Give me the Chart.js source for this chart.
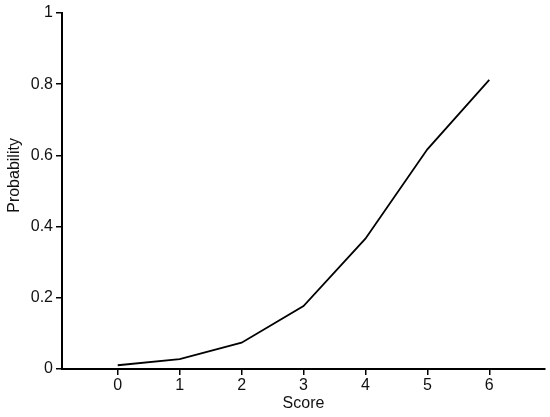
<!DOCTYPE html>
<html>
<head>
<meta charset="utf-8">
<script src="https://cdn.jsdelivr.net/npm/chart.js@4/dist/chart.umd.min.js"></script>
<style>
  html, body { margin: 0; padding: 0; background: #fff; }
  #wrap { width: 550px; height: 417px; }
</style>
</head>
<body>
<div id="wrap"><canvas id="chart"></canvas></div>
<script>
// score categories and the probability
const scores = [0, 1, 2, 3, 4, 5, 6];
const probability = [0.0105, 0.028, 0.074, 0.177, 0.366, 0.617, 0.812];
const yTicks = [0, 0.2, 0.4, 0.6, 0.8, 1];

const font = { family: '"Liberation Sans", Arial, sans-serif', size: 16 };

const chartConfig = {
  type: 'line',
  data: {
    datasets: [
      {
        label: 'Probability',
        data: scores.map((s, i) => ({ x: s, y: probability[i] })),
        borderColor: '#000',
        borderWidth: 1.8,
        pointRadius: 0,
        tension: 0,
        fill: false,
      },
    ],
  },
  options: {
    responsive: true,
    maintainAspectRatio: false,
    animation: false,
    layout: { padding: { left: 0, top: 13, right: 5, bottom: 0 } },
    plugins: { legend: { display: false }, tooltip: { enabled: false } },
    scales: {
      x: {
        type: 'linear',
        min: -0.9,
        max: 6.9,
        afterBuildTicks: (scale) => { scale.ticks = scores.map((v) => ({ value: v })); },
        afterFit: (scale) => { scale.height = 48; },
        grid: { drawOnChartArea: false, drawTicks: true, tickLength: 6, color: '#000', lineWidth: 1.5 },
        border: { color: '#000', width: 2 },
        ticks: { color: '#111', font: font, padding: 1, maxRotation: 0, callback: (v) => String(v) },
        title: { display: true, text: 'Score', color: '#111', font: font, padding: { top: 0, bottom: 4 } },
      },
      y: {
        type: 'linear',
        min: 0,
        max: 1,
        afterBuildTicks: (scale) => { scale.ticks = yTicks.map((v) => ({ value: v })); },
        afterFit: (scale) => { scale.width = 62; },
        grid: { drawOnChartArea: false, drawTicks: true, tickLength: 6, color: '#000', lineWidth: 1.5 },
        border: { color: '#000', width: 2 },
        ticks: { color: '#111', font: font, padding: 3, callback: (v) => String(v) },
        title: { display: true, text: '       Probability', color: '#111', font: font, padding: { top: 5, bottom: 0 } },
      },
    },
  },
};

new Chart(document.getElementById('chart'), chartConfig);
</script>
</body>
</html>
